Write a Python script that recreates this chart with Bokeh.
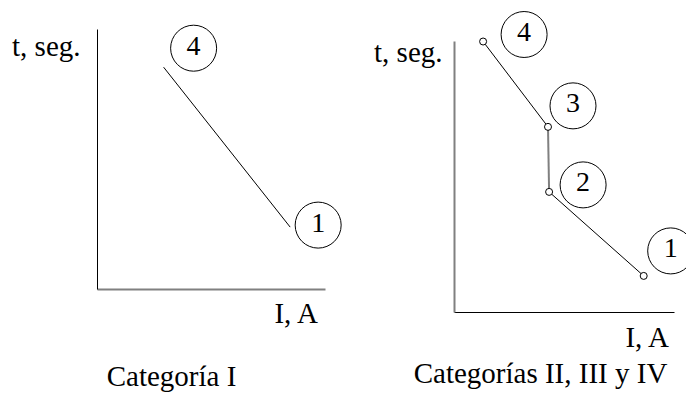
from bokeh.plotting import figure
from bokeh.models import Range1d, ColumnDataSource
from bokeh.layouts import row
from bokeh.embed import file_html
from bokeh.resources import INLINE
from bokeh.core.properties import value

# ---------------- data (abstract units, axes run 0..10) ----------------
axis_max = 10

cat1_labels = ["4", "1"]
cat1_I = [2.9, 8.45]
cat1_t = [8.55, 2.4]

cat2_labels = ["4", "3", "2", "1"]
cat2_I = [1.3, 4.25, 4.3, 8.6]
cat2_t = [10.0, 6.85, 4.45, 1.35]

x_title = "I, A"
y_title = "t, seg."
cat1_title = "Categoría I"
cat2_title = "Categorías II, III y IV"

# ---------------- style ----------------
FONT = value("Liberation Serif")
FS_PX = 29
FS_NUM_PX = 28
FS = f"{FS_PX}px"
FS_NUM = f"{FS_NUM_PX}px"
BASE_FIX = 0.41  # baseline correction of the svg text renderer (in em)
H = 393


def make_panel(width, origin, scale, I, t, labels, lab_off, markers,
               seg_colors, seg_widths, xaxis_style, yaxis_style,
               ylab_off, xlab_off, title, title_off):
    ox, oy = origin
    sx, sy = scale
    fix = BASE_FIX * FS_PX / sy
    fix_num = BASE_FIX * FS_NUM_PX / sy
    p = figure(width=width, height=H, output_backend="svg", toolbar_location=None,
               x_range=Range1d(-ox / sx, (width - ox) / sx),
               y_range=Range1d(-(H - oy) / sy, oy / sy),
               min_border=0, min_border_left=0, min_border_right=0,
               min_border_top=0, min_border_bottom=0)
    p.axis.visible = False
    p.grid.visible = False
    p.outline_line_color = None
    p.background_fill_color = "white"
    p.border_fill_color = "white"

    # axes
    p.segment(x0=[0], y0=[0], x1=[axis_max], y1=[0],
              line_color=xaxis_style[0], line_width=xaxis_style[1])
    p.segment(x0=[0], y0=[0], x1=[0], y1=[axis_max],
              line_color=yaxis_style[0], line_width=yaxis_style[1])

    # curve
    src = ColumnDataSource(dict(x0=I[:-1], y0=t[:-1], x1=I[1:], y1=t[1:],
                                c=seg_colors, w=seg_widths))
    p.segment(x0="x0", y0="y0", x1="x1", y1="y1", line_color="c",
              line_width="w", source=src)
    if markers:
        p.scatter(x=I, y=t, marker="circle", size=7, fill_color="white",
                  line_color="black", line_width=1)

    # numbered circles
    lx = [xi + d[0] / sx for xi, d in zip(I, lab_off)]
    ly = [yi + d[1] / sy for yi, d in zip(t, lab_off)]
    p.scatter(x=lx, y=ly, marker="circle", size=46, fill_color=None,
              line_color="black", line_width=1)
    p.text(x=lx, y=[v - 9 / sy + fix_num for v in ly], text=labels, text_font=FONT,
           text_font_size=FS_NUM, text_align="center", text_baseline="alphabetic",
           text_color="black")

    # axis titles
    p.text(x=[ylab_off[0] / sx], y=[axis_max + ylab_off[1] / sy + fix], text=[y_title],
           text_font=FONT, text_font_size=FS, text_align="right",
           text_baseline="alphabetic", text_color="black")
    p.text(x=[axis_max + xlab_off[0] / sx], y=[xlab_off[1] / sy + fix], text=[x_title],
           text_font=FONT, text_font_size=FS, text_align="right",
           text_baseline="alphabetic", text_color="black")
    p.text(x=[title_off[0] / sx], y=[title_off[1] / sy + fix], text=[title],
           text_font=FONT, text_font_size=FS, text_align="center",
           text_baseline="alphabetic", text_color="black")
    return p


p1 = make_panel(348, (97, 289), (22.8, 26.0), cat1_I, cat1_t, cat1_labels,
                [(30, 19), (28, 2)], False, ["black"], [1],
                ("#808080", 2), ("black", 1),
                (-17, -28), (-6, -35), cat1_title, (74, -98))

p2 = make_panel(338, (106, 312), (22.0, 27.1), cat2_I, cat2_t, cat2_labels,
                [(41, 7), (25, 21), (34, 7), (27, 25)], True,
                ["black", "#808080", "black"], [1, 2, 1],
                ("black", 1), ("#808080", 2),
                (-12, -22), (-4, -36), cat2_title, (86, -72))

layout = row(p1, p2, spacing=0)
open("out.html", "w").write(file_html(layout, INLINE))
